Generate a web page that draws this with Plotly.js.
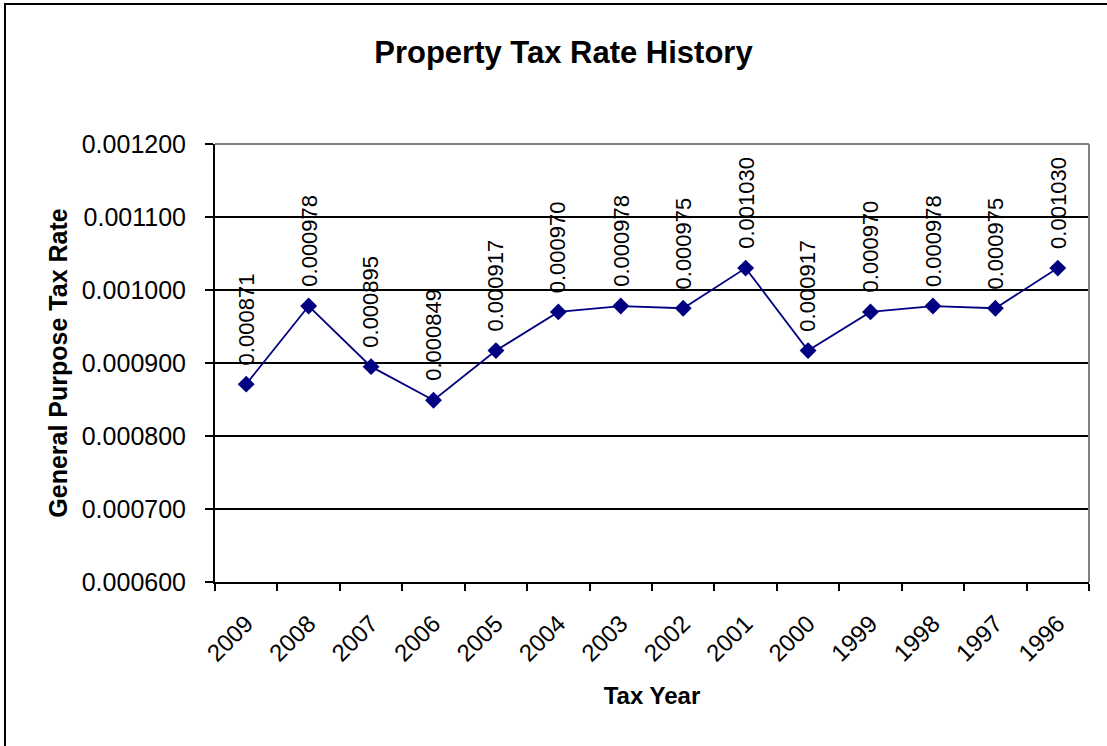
<!DOCTYPE html>
<html>
<head>
<meta charset="utf-8">
<script src="https://cdn.plot.ly/plotly-3.0.1.min.js"></script>
<style>
html,body{margin:0;padding:0;background:#fff;}
#chart{width:1107px;height:746px;}
</style>
</head>
<body>
<div id="chart"></div>
<script>
const years = ["2009","2008","2007","2006","2005","2004","2003","2002","2001","2000","1999","1998","1997","1996"];
const rates = [0.000871,0.000978,0.000895,0.000849,0.000917,0.000970,0.000978,0.000975,0.001030,0.000917,0.000970,0.000978,0.000975,0.001030];
const yTickVals = [0.0006,0.0007,0.0008,0.0009,0.0010,0.0011,0.0012];

const FONT = "Liberation Sans, Arial, sans-serif";

const trace = {
  type: "scatter",
  mode: "lines+markers",
  x: years,
  y: rates,
  line: {color: "#000080", width: 1.8},
  marker: {symbol: "diamond", size: 13, color: "#000080"},
  hoverinfo: "x+y"
};

const labelAnns = years.map((yr, i) => ({
  x: i, y: rates[i], xref: "x", yref: "y",
  text: rates[i].toFixed(6),
  showarrow: false,
  textangle: -90,
  xanchor: "center", yanchor: "bottom",
  yshift: 17,
  font: {family: FONT, size: 22, color: "#000"}
}));

const layout = {
  width: 1107, height: 746,
  paper_bgcolor: "#fff", plot_bgcolor: "#fff",
  margin: {l: 215, r: 18, t: 144, b: 164},
  showlegend: false,
  title: {
    text: "<b>Property Tax Rate History</b>",
    font: {family: FONT, size: 31, color: "#000"},
    xref: "container", x: 0.509, xanchor: "center",
    yref: "container", y: 0.93, yanchor: "middle"
  },
  xaxis: {
    type: "category",
    range: [-0.5, 13.5],
    showgrid: false,
    showline: true, linecolor: "#000", linewidth: 2,
    ticks: "outside", ticklen: 7, tickwidth: 1.5, tickcolor: "#000",
    tickson: "boundaries",
    tickangle: -45,
    ticklabelstandoff: 16,
    tickfont: {family: FONT, size: 24, color: "#000"},
    zeroline: false,
    title: {text: "<b>Tax Year</b>", font: {family: FONT, size: 24, color: "#000"}, standoff: 22}
  },
  yaxis: {
    range: [0.0006, 0.0012],
    tickvals: yTickVals,
    tickformat: ".6f",
    showgrid: true, gridcolor: "#000", gridwidth: 1.5,
    showline: true, linecolor: "#000", linewidth: 2,
    ticks: "outside", ticklen: 8, tickwidth: 1.5, tickcolor: "#000",
    ticklabelstandoff: 14,
    tickfont: {family: FONT, size: 25, color: "#000"},
    zeroline: false,
    title: {text: "<b>General Purpose Tax Rate</b>", font: {family: FONT, size: 25, color: "#000"}, standoff: 7}
  },
  shapes: [
    {type: "line", xref: "paper", yref: "paper", x0: 0, x1: 1, y0: 1, y1: 1, line: {color: "#808080", width: 2}, layer: "above"},
    {type: "line", xref: "paper", yref: "paper", x0: 1, x1: 1, y0: 0, y1: 1, line: {color: "#808080", width: 2}, layer: "above"},
    {type: "rect", xref: "paper", yref: "paper", x0: -0.2403, x1: 1.2, y0: -0.6, y1: 1.3196, line: {color: "#000", width: 2}, fillcolor: "rgba(0,0,0,0)", layer: "above"}
  ],
  annotations: labelAnns
};

Plotly.newPlot("chart", [trace], layout, {displayModeBar: false});
</script>
</body>
</html>
